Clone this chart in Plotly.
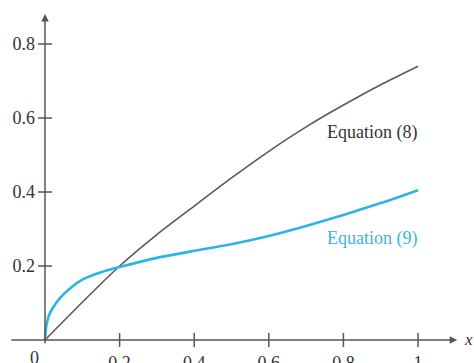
"""
    Two solution curves, Equation (8) and Equation (9)
"""
import plotly.graph_objects as go

# values
eq8_x = [0, 0.1, 0.2, 0.3, 0.4, 0.5, 0.6, 0.7, 0.8, 0.9, 1.0]
eq8_y = [0, 0.102, 0.2, 0.285, 0.362, 0.438, 0.51, 0.576, 0.635, 0.69, 0.74]

eq9_x = [0, 0.003, 0.01, 0.02, 0.04, 0.07, 0.1, 0.15, 0.2, 0.3, 0.4, 0.5,
         0.6, 0.7, 0.8, 0.9, 1.0]
eq9_y = [0, 0.035, 0.065, 0.085, 0.113, 0.142, 0.163, 0.183, 0.197, 0.222,
         0.241, 0.259, 0.281, 0.308, 0.338, 0.37, 0.405]

x_ticks = [0.2, 0.4, 0.6, 0.8, 1.0]
x_ticktext = ['0.2', '0.4', '0.6', '0.8', '1']
y_ticks = [0.2, 0.4, 0.6, 0.8]
y_ticktext = ['0.2', '0.4', '0.6', '0.8']

# styling
font = 'Liberation Serif'
axis_color = '#555555'
black = '#5a5a5a'
blue = '#2db4e6'

x_range = [-0.1206, 1.150]
y_range = [-0.0622, 0.919]


def main():
    fig = go.Figure()

    # curves
    fig.add_trace(go.Scatter(x=eq8_x, y=eq8_y, mode='lines', line_shape='spline',
                             line=dict(color=black, width=1.6, smoothing=0.6),
                             hoverinfo='skip'))
    fig.add_trace(go.Scatter(x=eq9_x, y=eq9_y, mode='lines', line_shape='spline',
                             line=dict(color=blue, width=2.6, smoothing=0.6),
                             hoverinfo='skip'))

    # tick marks crossing the axes
    fig.add_trace(go.Scatter(x=x_ticks, y=[0] * len(x_ticks), mode='markers',
                             marker=dict(symbol='line-ns', size=10,
                                         line=dict(color=axis_color, width=1.5)),
                             hoverinfo='skip'))
    fig.add_trace(go.Scatter(x=[0] * len(y_ticks), y=y_ticks, mode='markers',
                             marker=dict(symbol='line-ew', size=10,
                                         line=dict(color=axis_color, width=1.5)),
                             hoverinfo='skip'))

    # axis lines with arrow heads
    arrow = dict(text='', showarrow=True, arrowhead=2, arrowsize=1, arrowwidth=1.5,
                 arrowcolor=axis_color, axref='x', ayref='y', xref='x', yref='y')
    fig.add_annotation(x=1.105, y=0, ax=-0.094, ay=0, **arrow)
    fig.add_annotation(x=0, y=0.881, ax=0, ay=-0.013, **arrow)

    # labels
    fig.add_annotation(x=1.134, y=0, text='<i>x</i>', showarrow=False,
                       font=dict(family=font, size=17, color='#333333'))
    fig.add_annotation(x=-0.027, y=-0.048, text='0', showarrow=False,
                       font=dict(family=font, size=18, color='#333333'))
    fig.add_annotation(x=0.877, y=0.561, text='Equation (8)', showarrow=False,
                       font=dict(family=font, size=18, color='#333333'))
    fig.add_annotation(x=0.877, y=0.274, text='Equation (9)', showarrow=False,
                       font=dict(family=font, size=18, color='#3bb5e0'))

    tick_font = dict(family=font, size=18, color='#333333')
    fig.update_xaxes(range=x_range, anchor='free', automargin=False,
                     position=(0 - y_range[0]) / (y_range[1] - y_range[0]),
                     showline=False, zeroline=False, showgrid=False, ticks='',
                     tickvals=x_ticks, ticktext=x_ticktext, tickfont=tick_font,
                     ticklabelstandoff=10)
    fig.update_yaxes(range=y_range, anchor='free', automargin=False,
                     position=(0 - x_range[0]) / (x_range[1] - x_range[0]),
                     showline=False, zeroline=False, showgrid=False, ticks='',
                     tickvals=y_ticks, ticktext=y_ticktext, tickfont=tick_font,
                     ticklabelstandoff=10)

    fig.update_layout(width=474, height=363, margin=dict(l=0, r=0, t=0, b=0),
                      paper_bgcolor='white', plot_bgcolor='white',
                      showlegend=False)

    # the page's default body margin would push the figure 8px in
    fig.write_html("out.html", config={'displayModeBar': False},
                   post_script="document.body.style.margin = '0';")
    return


if __name__ == "__main__":
    main()
